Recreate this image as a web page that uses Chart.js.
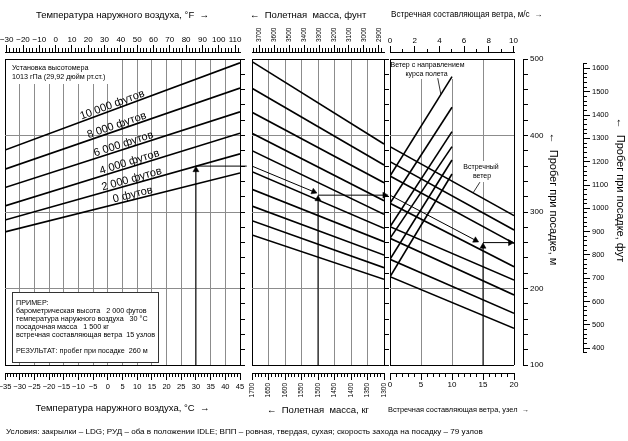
<!DOCTYPE html>
<html lang="ru">
<head>
<meta charset="utf-8">
<title>Пробег при посадке</title>
<script src="https://cdn.jsdelivr.net/npm/chart.js@4.4.1/dist/chart.umd.min.js"></script>
<style>
html, body { margin:0; padding:0; background:#fff; }
#wrap { position:relative; width:628px; height:441px; overflow:hidden; background:#fff; }
#wrap canvas { position:absolute; left:0; top:0; }
</style>
</head>
<body>
<div id="wrap">
  <canvas id="cTemp" width="628" height="441"></canvas>
  <canvas id="cMass" width="628" height="441"></canvas>
  <canvas id="cWind" width="628" height="441"></canvas>
  <canvas id="cMeters" width="628" height="441"></canvas>
  <canvas id="cFeet" width="628" height="441"></canvas>
</div>
<script>
// ================= DATA =================
// landing roll scale (m), shared by all three panels
const rollRangeM = [100, 500];
const feetRuler = [380, 1620];

// panel 1: outside air temperature vs pressure altitude
const tempRangeC = [-35, 45];
const tempC = [-35, 45];
const pressureAltitudes = ['0 футов', '2 000 футов', '4 000 футов', '6 000 футов', '8 000 футов', '10 000 футов'];
const rollAtMinus35C = [274, 289.5, 308, 332, 356, 381];
const rollAt45C = [351, 376, 403, 431, 462, 495];

// panel 2: landing mass guide lines
const massRangeKg = [1300, 1700];
const massKg = [1700, 1300];
const guideAt1700kg = [496.5, 461.7, 430.3, 402.9, 380.1, 352.7, 329.7, 307.8, 288.6, 269.9];
const guideAt1300kg = [388.9, 361.4, 338.3, 314.8, 297.0, 278.7, 261.2, 243.8, 227.2, 212.0];

// panel 3: wind guide lines
const windRangeKt = [0, 20];
const windRangeMs = [0, 10.05];
const headwindKt = [0, 20];
const headwindAt0 = [385.4, 365.8, 347.1, 311.4, 280.8, 265.6, 238.2, 215.4];
const headwindAt20 = [295.2, 276.5, 259.1, 228.5, 211.1, 191.5, 167.6, 148.0];
const tailwindKt = [0, 10];
const tailwindAt0 = [347.1, 311.4, 280.8, 265.6, 238.2, 215.4];
const tailwindAt10 = [476.9, 436.9, 405.0, 385.4, 368.0, 349.7];
const tailLeader = [[7.7, 475], [8.2, 454]];
const headLeader = [[14.5, 339], [13.4, 325]];

// worked example (30 °C, 2 000 ft, 1 500 kg, 15 kt -> 260 m)
const exTempVertical = [[30, 100], [30, 355]];
const exTempHorizontal = [[30, 360], [47.3, 360]];
const exMassGuide = [[1700, 360], [1513, 326.5]];
const exMassVertical = [[1500, 100], [1500, 317]];
const exMassHorizontal = [[1500, 322], [1298, 322]];
const exWindGuide = [[0, 322], [13.8, 263]];
const exWindVertical = [[15, 100], [15, 255]];
const exWindHorizontal = [[15, 260], [19.4, 260]];

// ================= HELPERS =================
const FONT = "'Liberation Sans', Arial, Helvetica, sans-serif";
const GRID = '#8c8c8c';
Chart.defaults.font.family = FONT;
Chart.defaults.color = '#000';

const PT = 59, PB = 365; // panel top / bottom (px)
const W = 628, H = 441;

function isMult(v, m) { const r = v / m; return Math.abs(r - Math.round(r)) < 1e-6; }
function fmtNum(v) { return v < 0 ? '\u2212' + Math.abs(v) : String(v); }
function fixSize(size) {
  return s => {
    if (s.isHorizontal()) s.height = size; else s.width = size;
    s.paddingLeft = 0; s.paddingRight = 0; s.paddingTop = 0; s.paddingBottom = 0;
  };
}
function pts(arr) { return arr.map(p => ({x: p[0], y: p[1]})); }

function gridAxis(pos, min, max, step, reverse, size) {
  return {
    type: 'linear', position: pos, weight: 0, min, max, reverse: !!reverse,
    ticks: { display: false, stepSize: step, autoSkip: false },
    grid: { display: true, drawOnChartArea: true, drawTicks: false, lineWidth: 1,
      color: c => (c.tick && (Math.abs(c.tick.value - min) < 1e-9 || Math.abs(c.tick.value - max) < 1e-9)) ? '#000' : GRID },
    border: { display: false },
    afterFit: fixSize(size)
  };
}
function spacer(pos, size) {
  return { type: 'linear', position: pos, weight: 0, min: 0, max: 1,
    ticks: { display: false }, grid: { display: false }, border: { display: false },
    afterFit: fixSize(size) };
}
function edgeTicks() {
  return { type: 'linear', position: 'right', weight: 0, min: rollRangeM[0], max: rollRangeM[1],
    ticks: { display: false, stepSize: 20, autoSkip: false },
    grid: { display: true, drawOnChartArea: false, drawTicks: true, tickLength: 5, tickColor: '#000', color: '#000' },
    border: { display: false },
    afterFit: fixSize(6) };
}
function ruler(o) {
  return {
    type: 'linear', position: o.pos, weight: 1, min: o.min, max: o.max, reverse: !!o.reverse,
    ticks: { stepSize: o.step, autoSkip: false, includeBounds: false,
      minRotation: o.rot || 0, maxRotation: o.rot || 0, labelOffset: o.lo || 0,
      padding: o.pad, color: '#000', font: { family: FONT, size: o.fs },
      callback: v => isMult(v, o.every) ? fmtNum(v) : '' },
    grid: { display: true, drawOnChartArea: false, drawTicks: true, tickLength: o.tl,
      tickWidth: 1, tickColor: '#000', color: '#000', lineWidth: 1 },
    border: { display: true, color: '#000', width: 1 },
    title: { display: !!o.title, text: o.title || '', align: o.align || 'center', padding: 0,
      color: '#000', font: { family: FONT, size: o.tfs || 9.5 } },
    afterFit: fixSize(o.size)
  };
}

function lineDs(points, w) {
  return { data: points, xAxisID: 'x', yAxisID: 'y', borderColor: '#000', borderWidth: w || 1.6,
    pointRadius: 0, pointHoverRadius: 0, fill: false, tension: 0 };
}
function arrowAngle(c) {
  const ds = c.chart.data.datasets[c.datasetIndex];
  const i = c.dataIndex;
  if (i === 0) return 0;
  const xs = c.chart.scales.x, ys = c.chart.scales.y;
  const p0 = ds.data[i - 1], p1 = ds.data[i];
  const dx = xs.getPixelForValue(p1.x) - xs.getPixelForValue(p0.x);
  const dy = ys.getPixelForValue(p1.y) - ys.getPixelForValue(p0.y);
  return Math.atan2(dx, -dy) * 180 / Math.PI;
}
function arrowDs(points) {
  const last = points.length - 1;
  return { data: points, xAxisID: 'x', yAxisID: 'y', borderColor: '#000', borderWidth: 1,
    fill: false, tension: 0, clip: false,
    pointStyle: 'triangle', backgroundColor: '#000', pointBackgroundColor: '#000',
    pointBorderColor: '#000', pointBorderWidth: 0.5, pointHoverRadius: 0,
    pointRadius: c => c.dataIndex === last ? 3.5 : 0,
    pointRotation: c => arrowAngle(c) };
}

function notes(items) {
  return { id: 'notes', beforeDatasetsDraw(chart) {
    const ctx = chart.ctx;
    for (const it of items) {
      ctx.save();
      if (it.rect) {
        const [x, y, w, h] = it.rect;
        if (it.fill) { ctx.fillStyle = it.fill; ctx.fillRect(x, y, w, h); }
        if (it.stroke) { ctx.strokeStyle = it.stroke; ctx.lineWidth = 1; ctx.strokeRect(x + 0.5, y + 0.5, w, h); }
      } else {
        let x = it.x, y = it.y, rot = (it.rot || 0) * Math.PI / 180;
        if (it.along !== undefined) {
          const ds = chart.data.datasets[it.along];
          const xs = chart.scales.x, ys = chart.scales.y;
          const a = ds.data[0], b = ds.data[ds.data.length - 1];
          const ax = xs.getPixelForValue(a.x), ay = ys.getPixelForValue(a.y);
          const bx = xs.getPixelForValue(b.x), by = ys.getPixelForValue(b.y);
          rot = Math.atan2(by - ay, bx - ax);
          x = xs.getPixelForValue(it.at);
          y = ay + (x - ax) / (bx - ax) * (by - ay);
        }
        ctx.translate(x, y); ctx.rotate(rot);
        ctx.font = it.size + 'px ' + FONT;
        ctx.fillStyle = '#000';
        ctx.textAlign = it.align || 'left';
        ctx.textBaseline = it.baseline || 'middle';
        ctx.fillText(it.text, 0, it.dy || 0);
      }
      ctx.restore();
    }
  }};
}
function majorTicks(list) {
  return { id: 'majorTicks', afterDraw(chart) {
    const ctx = chart.ctx;
    ctx.save(); ctx.strokeStyle = '#000'; ctx.lineWidth = 1;
    for (const m of list) {
      const s = chart.scales[m.scale];
      const pos = s.options.position;
      ctx.beginPath();
      for (const t of s.ticks) {
        if (!isMult(t.value, m.every)) continue;
        const p = Math.round(s.getPixelForValue(t.value) - 0.5) + 0.5;
        if (pos === 'top') { ctx.moveTo(p, s.bottom); ctx.lineTo(p, s.bottom - m.len); }
        else if (pos === 'bottom') { ctx.moveTo(p, s.top); ctx.lineTo(p, s.top + m.len); }
        else if (pos === 'right') { ctx.moveTo(s.left, p); ctx.lineTo(s.left + m.len, p); }
        else { ctx.moveTo(s.right, p); ctx.lineTo(s.right - m.len, p); }
      }
      ctx.stroke();
    }
    ctx.restore();
  }};
}
function makeChart(id, cfg) {
  return new Chart(document.getElementById(id), {
    type: 'line',
    data: { datasets: cfg.datasets || [] },
    options: {
      responsive: false, animation: false, devicePixelRatio: 1, events: [],
      layout: { padding: cfg.padding },
      plugins: { legend: { display: false }, tooltip: { enabled: false }, title: { display: false } },
      scales: cfg.scales
    },
    plugins: [notes(cfg.notes || []), majorTicks(cfg.majors || [])]
  });
}

// ================= PANEL 1: TEMPERATURE / ALTITUDE =================
const fRange = tempRangeC.map(c => c * 9 / 5 + 32);
const tempDatasets = pressureAltitudes.map((n, i) =>
  lineDs([{x: tempC[0], y: rollAtMinus35C[i]}, {x: tempC[1], y: rollAt45C[i]}]));
tempDatasets.push(arrowDs(pts(exTempVertical)), arrowDs(pts(exTempHorizontal)));
const labelAtC = [8.9, 8.6, 7.9, 5.9, 3.6, 2.1];

makeChart('cTemp', {
  datasets: tempDatasets,
  padding: { left: 5, right: W - 240 - 6, top: 9.3, bottom: 27.3 },
  scales: {
    x: gridAxis('bottom', tempRangeC[0], tempRangeC[1], 5, false, 8),
    y: gridAxis('left', rollRangeM[0], rollRangeM[1], 100, false, 0),
    yr: edgeTicks(),
    xs: spacer('top', 7),
    xf: ruler({ pos: 'top', min: fRange[0] - 0.05, max: fRange[1] + 0.05, step: 2, every: 10, tl: 4, pad: 3.9, fs: 8,
      size: 42.7, title: 'Температура наружного воздуха, °F  \u2192', tfs: 9.5 }),
    xc: ruler({ pos: 'bottom', min: tempRangeC[0], max: tempRangeC[1], step: 1, every: 5, tl: 4, pad: 5.2, fs: 7.5,
      size: 40.7, title: 'Температура наружного воздуха, °C  \u2192', tfs: 9.5 })
  },
  majors: [{ scale: 'xf', every: 10, len: 7 }, { scale: 'xc', every: 5, len: 7 }],
  notes: [
    { rect: [6, 60, 110, 24], fill: '#fff' },
    { text: 'Установка высотомера', x: 12, y: 68, size: 7.2 },
    { text: '1013 гПа (29,92 дюйм рт.ст.)', x: 12, y: 77.5, size: 7.2 },
    ...pressureAltitudes.map((n, i) => ({ text: n, along: i, at: labelAtC[i], size: 11, align: 'center', baseline: 'alphabetic', dy: -2 })),
    { rect: [12, 292, 146, 70], fill: '#fff', stroke: '#333' },
    { text: 'ПРИМЕР:', x: 16, y: 302.7, size: 7.2 },
    { text: 'барометрическая высота   2 000 футов', x: 16, y: 310.8, size: 7.2 },
    { text: 'температура наружного воздуха   30 °C', x: 16, y: 319, size: 7.2 },
    { text: 'посадочная масса   1 500 кг', x: 16, y: 327.2, size: 7.2 },
    { text: 'встречная составляющая ветра  15 узлов', x: 16, y: 335.2, size: 7.2 },
    { text: 'РЕЗУЛЬТАТ: пробег при посадке  260 м', x: 16, y: 350.7, size: 7.2 }
  ]
});

// ================= PANEL 2: MASS =================
const massDatasets = guideAt1700kg.map((v, i) =>
  lineDs([{x: massKg[0], y: v}, {x: massKg[1], y: guideAt1300kg[i]}]));
massDatasets.push(arrowDs(pts(exMassGuide)), arrowDs(pts(exMassVertical)), arrowDs(pts(exMassHorizontal)));
const LB = 0.45359237;

makeChart('cMass', {
  datasets: massDatasets,
  padding: { left: 252, right: W - 384 - 6, top: 9.3, bottom: 25.3 },
  scales: {
    x: gridAxis('bottom', massRangeKg[0], massRangeKg[1], 50, true, 8),
    y: gridAxis('left', rollRangeM[0], rollRangeM[1], 100, false, 0),
    yr: edgeTicks(),
    xs: spacer('top', 7),
    xlb: ruler({ pos: 'top', min: massRangeKg[0] / LB, max: massRangeKg[1] / LB, reverse: true, step: 20, every: 100,
      tl: 4, pad: 6, fs: 6.5, rot: 90, lo: 7.8, size: 42.7 }),
    xkg: ruler({ pos: 'bottom', min: massRangeKg[0], max: massRangeKg[1], reverse: true, step: 10, every: 50,
      tl: 4, pad: 6, fs: 6.5, rot: 90, size: 42.7, title: '\u2190  Полетная  масса, кг', tfs: 9.5 })
  },
  majors: [{ scale: 'xlb', every: 100, len: 7 }, { scale: 'xkg', every: 50, len: 7 }],
  notes: [
    { text: '\u2190  Полетная  масса, фунт', x: 250, y: 15, size: 9.5 }
  ]
});

// ================= PANEL 3: WIND =================
const windDatasets = headwindAt0.map((v, i) =>
  lineDs([{x: headwindKt[0], y: v}, {x: headwindKt[1], y: headwindAt20[i]}]));
tailwindAt0.forEach((v, i) => windDatasets.push(lineDs([{x: tailwindKt[0], y: v}, {x: tailwindKt[1], y: tailwindAt10[i]}])));
windDatasets.push(lineDs(pts(tailLeader), 0.8), lineDs(pts(headLeader), 0.8));
windDatasets.push(arrowDs(pts(exWindGuide)), arrowDs(pts(exWindVertical)), arrowDs(pts(exWindHorizontal)));

makeChart('cWind', {
  datasets: windDatasets,
  padding: { left: 390, right: W - 514, top: 9.6, bottom: 25.9 },
  scales: {
    x: gridAxis('bottom', windRangeKt[0], windRangeKt[1], 5, false, 8),
    y: gridAxis('left', rollRangeM[0], rollRangeM[1], 100, false, 0),
    xs: spacer('top', 7),
    xms: ruler({ pos: 'top', min: windRangeMs[0], max: windRangeMs[1], step: 1, every: 2, tl: 3, pad: 3.5, fs: 8,
      size: 42.4 }),
    xkt: ruler({ pos: 'bottom', min: windRangeKt[0], max: windRangeKt[1], step: 1, every: 5, tl: 4, pad: 3.2, fs: 8,
      size: 42.1 })
  },
  majors: [{ scale: 'xms', every: 2, len: 6 }, { scale: 'xkt', every: 5, len: 7 }],
  notes: [
    { text: 'Встречная составляющая ветра, м/с  \u2192', x: 391, y: 15, size: 8.2 },
    { text: 'Встречная составляющая ветра, узел  \u2192', x: 388, y: 410, size: 7.4 },
    { rect: [392, 60, 72, 19], fill: '#fff' },
    { text: 'Ветер с направлением', x: 427.5, y: 65, size: 7, align: 'center' },
    { text: 'курса полета', x: 426.5, y: 74, size: 7, align: 'center' },
    { rect: [465, 161, 33, 21], fill: '#fff' },
    { text: 'Встречный', x: 481, y: 167.5, size: 7, align: 'center' },
    { text: 'ветер', x: 482, y: 176.5, size: 7, align: 'center' }
  ]
});

// ================= RIGHT SCALES: METRES =================
makeChart('cMeters', {
  padding: { left: 518, right: W - 523 - 30, top: PT, bottom: H - PB },
  scales: {
    x: { type: 'linear', display: false, min: 0, max: 1 },
    y: { type: 'linear', position: 'right', min: rollRangeM[0], max: rollRangeM[1],
      ticks: { stepSize: 20, autoSkip: false, padding: 2, color: '#000', font: { family: FONT, size: 8 },
        callback: v => isMult(v, 100) ? String(v) : '' },
      grid: { drawOnChartArea: false, drawTicks: true, tickLength: 5, tickColor: '#000', color: '#000' },
      border: { display: true, color: '#000' },
      afterFit: fixSize(30) }
  }
});

// ================= RIGHT SCALES: FEET =================
const M_PER_FT = 0.3048;
const pxForM = m => PT + (rollRangeM[1] - m) * (PB - PT) / (rollRangeM[1] - rollRangeM[0]);
const ftTop = pxForM(feetRuler[1] * M_PER_FT);
const ftBottom = pxForM(feetRuler[0] * M_PER_FT);
makeChart('cFeet', {
  padding: { left: 578, right: W - 583 - 30, top: ftTop, bottom: H - ftBottom },
  scales: {
    x: { type: 'linear', display: false, min: 0, max: 1 },
    y: { type: 'linear', position: 'right', min: feetRuler[0], max: feetRuler[1],
      ticks: { stepSize: 20, autoSkip: false, padding: 5, color: '#000', font: { family: FONT, size: 7.5 },
        callback: v => isMult(v, 100) ? String(v) : '' },
      grid: { drawOnChartArea: false, drawTicks: true, tickLength: 4, tickColor: '#000', color: '#000' },
      border: { display: true, color: '#000' },
      afterFit: fixSize(30) }
  },
  majors: [{ scale: 'y', every: 100, len: 7 }],
  notes: [
    { text: '\u2190  Пробег при посадке, м', x: 553, y: 199, rot: 90, size: 11, align: 'center' },
    { text: '\u2190  Пробег при посадке, фут', x: 620, y: 190, rot: 90, size: 11, align: 'center' },
    { text: 'Условия: закрылки \u2013 LDG; РУД \u2013 оба в положении IDLE; ВПП \u2013 ровная, твердая, сухая; скорость захода на посадку \u2013 79 узлов',
      x: 6, y: 432, size: 8.1 }
  ]
});
</script>
</body>
</html>
